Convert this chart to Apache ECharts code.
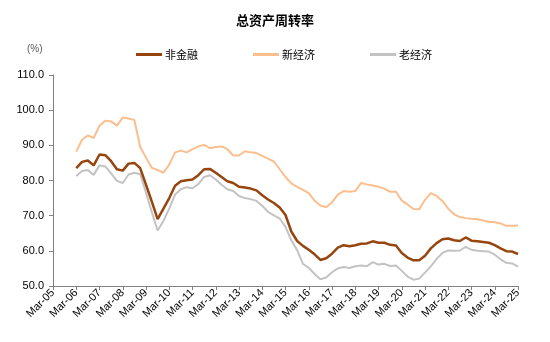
<!DOCTYPE html>
<html>
<head>
<meta charset="utf-8">
<script src="https://cdn.jsdelivr.net/npm/echarts@6/dist/echarts.min.js"></script>
<style>
  html, body { margin: 0; padding: 0; background: #fff; }
  #chart { width: 550px; height: 342px; }
</style>
</head>
<body>
<div id="chart"></div>
<script>
// Quarterly total-asset turnover (%), Mar-06 .. Mar-25
const years = [];
for (let y = 5; y <= 25; y++) years.push(y);
const quarterMonths = ['Mar', 'Jun', 'Sep', 'Dec'];

const nonFinancial = [
  83.5, 85.3, 85.7, 84.3, 87.4, 87.2, 85.5, 83.2, 82.8, 84.8,
  85.0, 83.5, 78.8, 74.0, 69.0, 72.0, 75.0, 78.5, 79.8, 80.1,
  80.3, 81.5, 83.2, 83.3, 82.2, 81.0, 79.8, 79.3, 78.2, 78.0,
  77.7, 77.2, 75.8, 74.6, 73.6, 72.3, 70.2, 65.5, 62.8, 61.4,
  60.3, 59.0, 57.4, 57.9, 59.2, 60.9, 61.6, 61.3, 61.6, 62.0,
  62.1, 62.7, 62.3, 62.3, 61.7, 61.5, 59.4, 58.1, 57.3, 57.3,
  58.6, 60.7, 62.2, 63.3, 63.5, 63.0, 62.8, 63.8, 62.9, 62.7,
  62.5, 62.3, 61.6, 60.7, 59.9, 59.8, 59.1
];
const newEconomy = [
  88.2, 91.6, 92.8, 92.1, 95.6, 97.0, 96.8, 95.6, 97.9, 97.6,
  97.2, 89.5, 86.5, 83.6, 83.0, 82.2, 84.5, 88.0, 88.5, 88.0,
  88.9, 89.7, 90.1, 89.2, 89.5, 89.7, 88.9, 87.1, 87.1, 88.3,
  88.0, 87.8, 87.0, 86.2, 85.4, 83.2, 81.0, 79.2, 78.2, 77.3,
  76.4, 74.3, 72.9, 72.4, 73.8, 76.0, 77.0, 76.8, 77.0, 79.3,
  78.9, 78.6, 78.2, 77.7, 76.8, 76.8, 74.3, 73.2, 71.9, 71.8,
  74.5, 76.4, 75.6, 74.2, 72.0, 70.4, 69.6, 69.3, 69.1, 69.0,
  68.6, 68.3, 68.1, 67.8, 67.1, 67.1, 67.2
];
const oldEconomy = [
  81.3, 82.7, 83.0, 81.6, 84.3, 84.0, 82.0, 79.9, 79.3, 81.7,
  82.2, 81.8, 76.5, 71.0, 65.8, 68.5, 72.0, 76.0, 77.5, 78.1,
  77.8, 79.0, 81.0, 81.5, 80.3, 78.8, 77.5, 77.0, 75.6, 75.0,
  74.7, 74.2, 72.8, 71.1, 70.1, 69.2, 66.8, 63.0, 60.2, 56.3,
  55.2, 53.4, 51.9, 52.4, 53.9, 55.0, 55.4, 55.1, 55.6, 55.8,
  55.6, 56.8, 56.1, 56.3, 55.7, 55.8, 54.3, 52.7, 51.8, 52.1,
  53.8, 55.6, 57.7, 59.4, 60.1, 60.0, 60.1, 61.1, 60.3, 60.0,
  59.9, 59.8, 58.9, 57.6, 56.6, 56.4, 55.5
];

// Category axis: every quarter from Mar-05 to Mar-25, series begin at Mar-06
const categories = [];
years.forEach(function (y) {
  const yy = (y < 10 ? '0' : '') + y;
  quarterMonths.forEach(function (m) {
    if (y === 25 && m !== 'Mar') return;
    categories.push(m + '-' + yy);
  });
});
const lead = categories.indexOf('Mar-06');
function pad(arr) {
  return new Array(lead).fill(null).concat(arr);
}

const cnFont = '"Noto Sans CJK SC", sans-serif';
const numFont = '"Liberation Sans", Arial, sans-serif';

const chart = echarts.init(document.getElementById('chart'), null, { renderer: 'canvas' });
chart.setOption({
  animation: false,
  backgroundColor: '#ffffff',
  title: {
    text: '总资产周转率',
    left: 'center',
    top: 9,
    textStyle: { fontFamily: cnFont, fontSize: 13, fontWeight: 'bold', color: '#000' }
  },
  graphic: [{
    type: 'text',
    left: 27,
    top: 44,
    style: { text: '(%)', fontFamily: numFont, fontSize: 10, fill: '#595959' }
  }],
  legend: {
    top: 44,
    left: 131,
    itemGap: 55,
    itemWidth: 26,
    itemHeight: 3,
    icon: 'rect',
    textStyle: { fontFamily: cnFont, fontSize: 11, color: '#000', padding: [0, 0, 0, -2] },
    data: ['非金融', '新经济', '老经济']
  },
  grid: { left: 53, right: 32, top: 75, bottom: 56, containLabel: false },
  xAxis: {
    type: 'category',
    data: categories,
    boundaryGap: false,
    axisLine: { lineStyle: { color: '#808080', width: 1 } },
    axisTick: { interval: 3, length: 4, lineStyle: { color: '#808080' } },
    axisLabel: {
      interval: 3,
      rotate: 45,
      margin: 5,
      fontFamily: numFont,
      fontSize: 11,
      color: '#000'
    },
    splitLine: { show: false }
  },
  yAxis: {
    type: 'value',
    min: 50,
    max: 110,
    interval: 10,
    axisLine: { show: true, lineStyle: { color: '#808080', width: 1 } },
    axisTick: { show: true, length: 4, lineStyle: { color: '#808080' } },
    axisLabel: {
      margin: 9,
      fontFamily: numFont,
      fontSize: 11,
      color: '#000',
      formatter: function (v) { return v.toFixed(1); }
    },
    splitLine: { show: false }
  },
  series: [
    {
      name: '新经济',
      type: 'line',
      data: pad(newEconomy),
      showSymbol: false,
      z: 1,
      lineStyle: { color: '#FBBE8E', width: 2 },
      itemStyle: { color: '#FBBE8E' }
    },
    {
      name: '老经济',
      type: 'line',
      data: pad(oldEconomy),
      showSymbol: false,
      z: 2,
      lineStyle: { color: '#C3C3C3', width: 2 },
      itemStyle: { color: '#C3C3C3' }
    },
    {
      name: '非金融',
      type: 'line',
      data: pad(nonFinancial),
      showSymbol: false,
      z: 3,
      lineStyle: { color: '#96450F', width: 2.5 },
      itemStyle: { color: '#96450F' }
    }
  ]
});
</script>
</body>
</html>
